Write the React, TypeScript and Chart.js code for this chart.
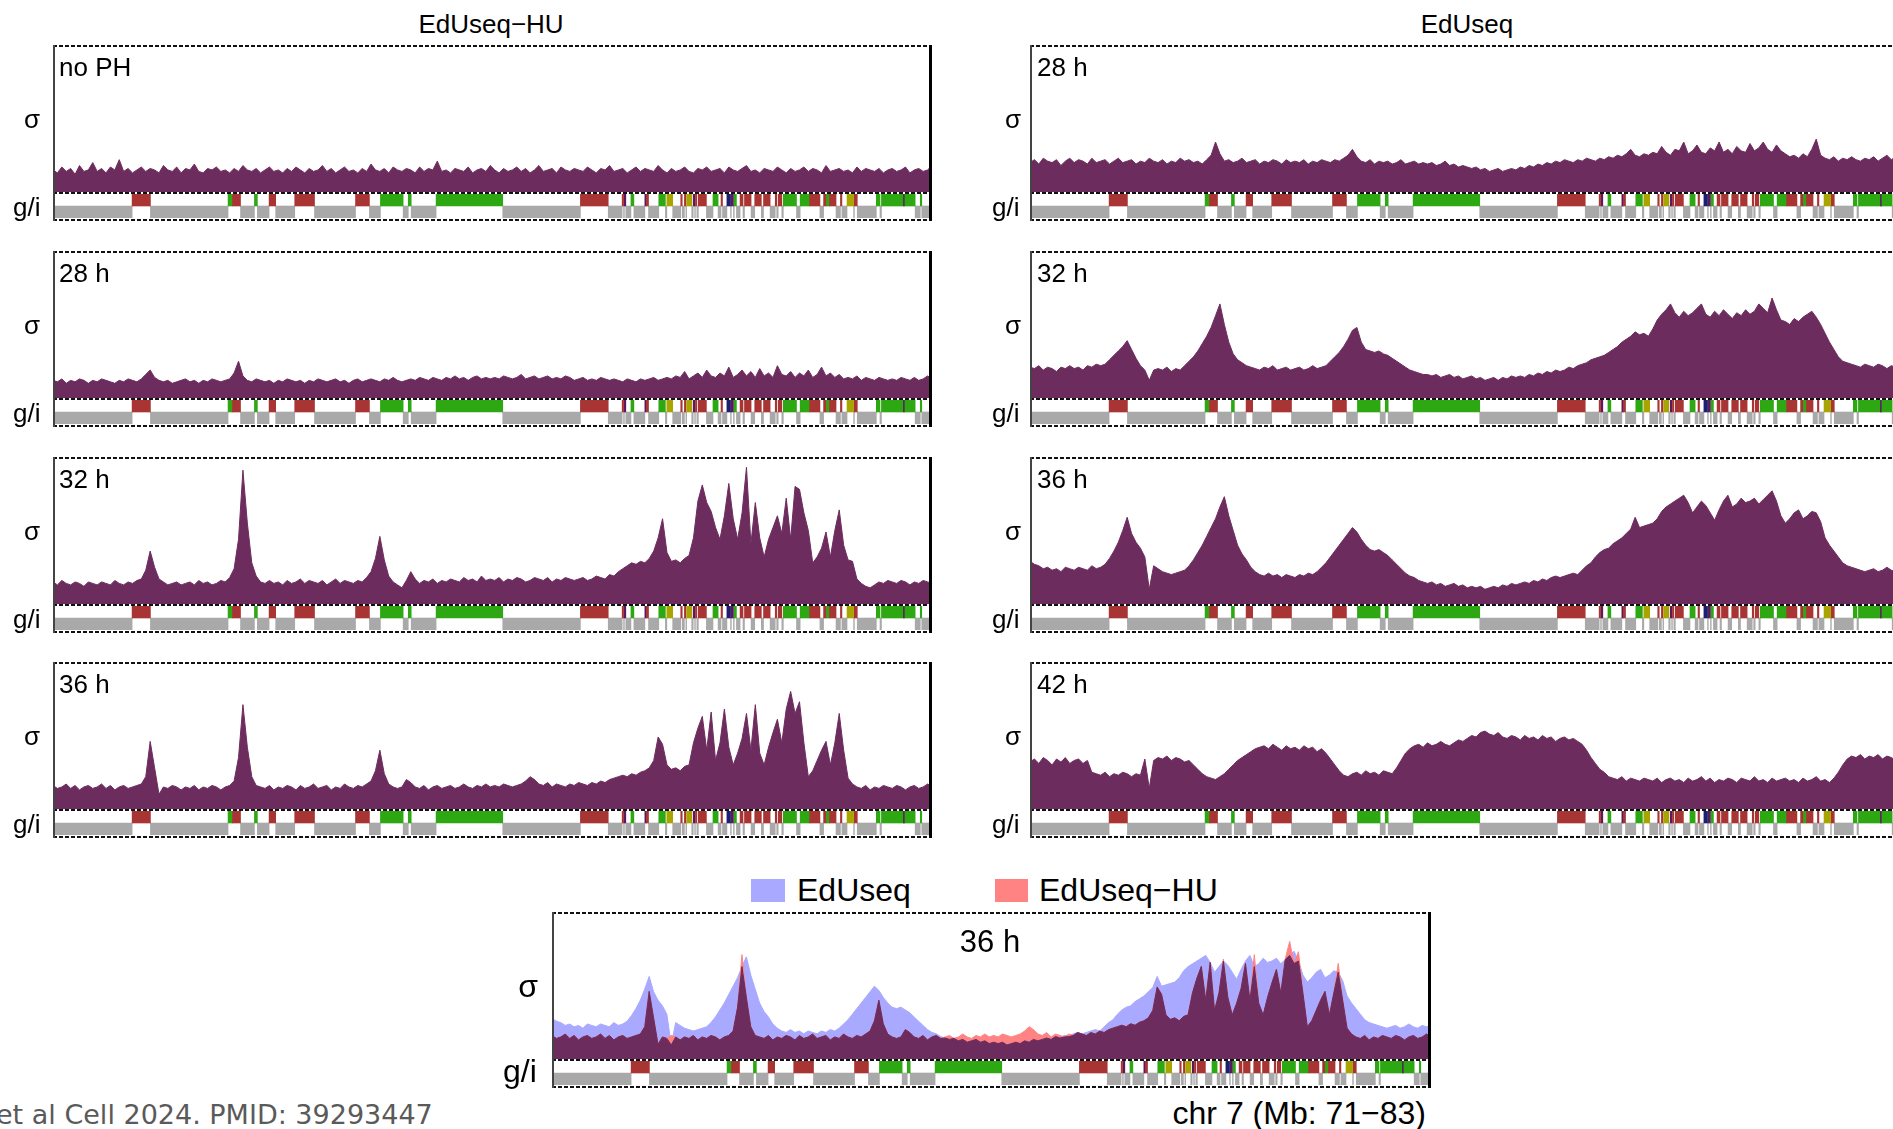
import React, { useEffect, useRef } from "react";
import { Chart, registerables } from "chart.js";
Chart.register(...registerables);

// ---------------- data ----------------
const MB_START = 71;
const MB_END = 83;
const N_BINS = 200;
const POS: number[] = Array.from({ length: N_BINS }, (_, i) => MB_START + (i * (MB_END - MB_START)) / (N_BINS - 1));

// EdUseq-HU, no partial hepatectomy
const HU_NOPH = [
  15,13,17,14,16,12,18,14,15,20, 14,16,13,17,15,22,14,16,13,15,
  17,14,16,15,13,18,15,14,17,13, 16,15,19,14,13,16,15,17,14,15,
  13,16,14,18,15,14,16,13,15,17, 14,15,13,16,14,17,15,13,16,14,
  15,18,14,16,13,15,17,14,15,13, 16,14,19,15,14,16,13,17,15,14,
  16,15,13,17,14,16,15,21,14,15, 13,16,15,14,17,13,15,16,14,18,
  15,13,16,14,15,17,14,16,13,15, 18,14,15,16,13,17,15,14,16,15,
  14,17,15,13,16,15,18,14,15,16, 13,15,17,14,16,15,14,18,15,13,
  16,14,15,17,14,13,16,15,17,14, 15,16,13,17,15,14,16,18,14,15,
  13,16,15,14,17,15,13,16,14,15, 17,14,16,15,13,18,14,15,16,14,
  15,13,17,14,16,15,14,16,13,15, 16,14,15,17,13,15,16,14,15,18,
];
// EdUseq-HU 28 h
const HU_28 = [
  12,11,13,10,12,11,13,12,10,12, 11,13,12,11,10,12,11,13,12,11,
  13,16,19,14,12,11,12,10,11,12, 13,11,12,10,12,11,13,12,11,12,
  13,17,25,15,12,11,13,12,11,12, 10,12,11,13,12,11,12,10,12,11,
  13,12,11,12,13,11,12,10,12,13, 11,12,13,12,11,13,12,14,12,11,
  12,13,12,14,13,12,14,13,12,14, 13,15,13,14,12,14,15,13,14,13,
  14,13,15,14,13,14,16,13,14,15, 13,14,15,13,14,13,15,14,12,13,
  14,12,13,12,14,13,12,13,12,11, 13,12,11,13,12,13,14,12,13,14,
  13,15,14,18,13,15,17,14,19,15, 14,17,15,21,14,16,19,15,18,14,
  20,15,17,14,22,16,15,18,14,17, 15,19,14,16,21,15,17,14,16,13,
  14,13,15,12,14,13,12,14,13,12, 13,12,14,13,12,14,12,13,15,13,
];
// EdUseq-HU 32 h
const HU_32 = [
  15,13,16,14,13,15,14,12,15,14, 13,15,14,13,16,14,13,15,14,16,
  17,23,36,25,17,15,13,14,15,13, 14,15,13,16,14,15,13,14,16,15,
  18,24,44,91,55,28,19,15,14,16, 14,15,13,16,14,15,17,14,16,15,
  14,16,13,15,17,14,16,15,14,16, 15,18,22,31,46,30,19,15,13,11,
  16,22,17,14,16,15,17,14,16,15, 17,16,15,18,16,17,15,19,16,17,
  16,18,15,17,16,18,17,15,16,18, 17,16,18,15,17,16,18,17,16,17,
  18,16,17,19,18,17,20,19,22,24, 26,28,27,29,28,31,36,45,58,35,
  29,30,28,31,33,45,70,81,69,63, 52,44,60,82,58,44,62,93,41,69,
  45,32,44,52,60,48,72,44,80,78, 62,50,28,32,38,49,32,50,64,40,
  30,29,17,14,12,11,13,15,14,16, 15,14,16,15,13,15,14,16,15,14,
];
// EdUseq-HU 36 h
const HU_36 = [
  16,14,15,17,14,16,13,15,16,14, 15,17,14,16,13,15,16,14,15,16,
  17,22,46,28,10,15,14,16,15,13, 15,14,16,13,15,14,16,15,13,15,
  16,19,35,71,42,22,16,15,14,16, 13,15,14,16,15,13,16,14,15,17,
  14,15,16,13,15,14,17,15,14,16, 15,17,19,26,40,24,17,15,14,15,
  20,18,15,14,16,13,15,16,14,15, 16,14,15,17,15,14,16,15,17,15,
  16,15,17,16,15,16,17,19,22,20, 17,16,18,15,17,16,15,17,16,18,
  17,16,18,17,19,18,20,21,22,23, 22,24,23,25,26,28,33,49,44,30,
  27,28,26,29,30,45,55,63,40,66, 33,45,68,42,30,38,48,65,40,71,
  38,30,42,52,61,45,68,80,65,73, 45,22,26,33,40,46,30,45,65,40,
  21,17,15,14,16,13,15,14,16,15, 14,16,15,13,15,16,14,15,17,15,
];
// EdUseq 28 h
const EDU_28 = [
  20,22,19,23,21,20,22,18,21,23, 20,22,21,19,23,20,21,22,19,21,
  23,20,21,22,19,21,20,23,21,20, 22,19,21,20,23,21,22,20,21,19,
  22,25,34,26,21,22,20,21,23,20, 21,22,19,21,20,22,21,19,22,20,
  21,20,22,19,21,20,22,21,20,22, 21,23,25,29,24,21,20,22,19,21,
  20,21,19,20,22,19,20,21,19,20, 19,20,18,19,21,18,19,17,18,17,
  16,17,15,16,14,15,16,14,15,16, 15,17,16,18,17,19,18,20,19,21,
  20,22,21,20,22,21,23,22,21,23, 22,24,23,25,24,26,29,25,24,26,
  25,27,26,31,27,25,29,28,34,26, 28,32,27,26,30,28,34,27,29,26,
  31,28,27,33,28,30,34,29,27,32, 28,26,24,25,23,26,24,29,36,25,
  23,22,24,21,23,22,24,22,21,23, 22,24,21,23,25,22,24,23,22,24,
];
// EdUseq 32 h
const EDU_32 = [
  21,20,22,19,21,20,18,21,20,22, 20,21,19,22,21,23,22,23,26,29,
  32,35,39,33,27,22,19,12,19,20, 19,21,18,20,19,22,25,28,32,37,
  42,48,56,64,50,38,30,26,24,22, 21,20,19,21,20,22,19,20,21,19,
  20,21,19,20,22,20,21,22,25,28, 31,35,40,46,48,38,33,32,31,32,
  30,29,27,25,23,21,19,18,17,16, 16,15,16,14,15,16,14,15,13,14,
  15,13,14,12,13,14,12,14,13,15, 14,15,14,16,15,17,16,18,17,19,
  18,19,21,20,22,23,24,26,27,28, 29,31,33,35,38,40,42,45,43,44,
  42,47,53,57,60,64,58,55,59,56, 58,61,64,57,55,59,56,60,57,54,
  58,56,60,57,59,64,61,58,68,60, 53,52,50,54,52,55,57,59,55,50,
  44,38,33,28,25,24,23,22,21,23, 22,21,23,22,20,22,21,23,22,21,
];
// EdUseq 36 h
const EDU_36 = [
  29,27,26,24,25,23,24,22,25,24, 23,25,24,23,26,24,25,27,31,36,
  42,50,59,48,42,38,32,10,26,24, 22,21,20,21,22,23,26,30,35,40,
  46,52,58,66,73,60,50,40,34,30, 25,22,20,19,21,19,20,18,20,19,
  18,20,19,21,20,22,25,28,32,36, 40,44,48,52,49,44,40,37,36,37,
  35,33,30,27,24,21,19,18,16,15, 14,15,13,14,12,13,14,12,13,11,
  12,11,12,10,11,12,11,13,12,14, 13,14,15,14,16,15,17,16,18,19,
  18,19,20,21,20,23,26,28,32,35, 37,38,41,43,45,48,51,59,52,53,
  54,55,58,63,66,68,70,72,74,69, 62,66,70,67,62,57,64,70,74,66,
  68,72,69,70,72,68,71,74,77,70, 60,55,58,62,64,58,60,63,62,56,
  45,40,36,32,28,26,25,24,23,22, 23,24,22,23,25,23,22,24,23,24,
];
// EdUseq 42 h
const EDU_42 = [
  32,34,31,35,33,30,34,32,35,31, 33,34,31,33,25,24,23,25,22,24,
  23,25,24,22,24,23,34,14,33,35, 34,36,33,35,34,32,33,30,27,24,
  22,21,20,22,24,27,30,33,35,37, 39,41,42,43,41,44,42,40,43,41,
  42,40,43,41,42,39,41,38,34,30, 26,23,22,24,25,23,26,24,25,23,
  26,25,24,28,33,38,41,43,44,42, 45,43,44,46,44,43,45,47,46,48,
  50,49,52,53,51,50,52,49,48,50, 49,47,50,48,49,47,50,48,49,46,
  48,49,47,48,46,44,40,35,31,27, 25,22,21,20,22,19,21,20,19,21,
  20,19,21,18,20,21,19,20,18,21, 19,20,22,19,21,18,20,19,21,20,
  18,21,20,19,22,19,20,18,21,19, 20,21,19,20,18,21,19,20,22,19,
  20,18,21,25,30,34,36,35,37,34, 36,35,37,34,36,35,33,36,34,35,
];

// genes on chr7 71-83 Mb: [start, end, class]
type Gene = [number, number, string];
const GENES: Gene[] = [
  [72.08, 72.33, "R"], [73.39, 73.45, "G"], [73.45, 73.56, "R"], [73.75, 73.79, "G"],
  [73.95, 74.04, "R"], [74.30, 74.57, "R"], [75.13, 75.32, "R"], [75.47, 75.78, "G"],
  [75.85, 75.89, "G"], [76.23, 77.14, "G"], [78.20, 78.58, "R"],
  [78.77, 78.79, "R"], [78.80, 78.82, "P"], [78.89, 78.93, "G"], [79.08, 79.10, "P"],
  [79.10, 79.13, "R"], [79.27, 79.36, "G"], [79.38, 79.46, "Y"], [79.57, 79.59, "R"],
  [79.62, 79.64, "R"], [79.65, 79.72, "Y"], [79.74, 79.76, "P"], [79.77, 79.79, "R"],
  [79.81, 79.92, "R"], [80.01, 80.08, "G"], [80.12, 80.14, "R"], [80.20, 80.25, "N"],
  [80.26, 80.29, "P"], [80.30, 80.33, "G"], [80.38, 80.42, "R"], [80.44, 80.53, "R"],
  [80.58, 80.67, "R"], [80.70, 80.79, "R"], [80.86, 80.88, "R"], [80.90, 80.95, "R"],
  [80.97, 81.15, "G"], [81.20, 81.33, "G"], [81.33, 81.47, "R"], [81.52, 81.56, "R"],
  [81.56, 81.60, "G"], [81.60, 81.69, "R"], [81.75, 81.77, "R"], [81.84, 81.93, "Y"],
  [81.94, 81.98, "R"], [82.24, 82.29, "G"], [82.31, 82.61, "G"], [82.61, 82.63, "P"],
  [82.63, 82.77, "G"], [82.84, 82.86, "G"],
];
// intergenic = complement of the genes
const INTERGENIC: [number, number][] = (() => {
  const s = [...GENES].sort((a, b) => a[0] - b[0]);
  const out: [number, number][] = [];
  let cur = MB_START;
  for (const g of s) {
    if (g[0] > cur) out.push([cur, g[0]]);
    cur = Math.max(cur, g[1]);
  }
  if (cur < MB_END) out.push([cur, MB_END]);
  return out;
})();

// ---------------- styles ----------------
const PURPLE = "#6D2C5E";
const BLUE = "#A9A9FF";
const PINK = "#FF8383";
const GRAY = "#A9A9A9";
const GENE_COLORS: Record<string, string> = { R: "#A93434", G: "#2EA812", Y: "#A8A400", P: "#5A1A5E", N: "#1E1E6E" };
const SANS = '"Liberation Sans", Arial, sans-serif';

const PANEL_W = 879;
const PANEL_H = 177;
const SIG_H = 147;
const GI_OFF = 149;
const GI_H = 24;

const LEFT_X = 53;
const RIGHT_X = 1030;
const ROW_T = [45, 251, 457, 662];
const BOTTOM_X = 552;
const BOTTOM_T = 912;

const borderPlugin = {
  id: "panelBorder",
  afterDraw(chart: any) {
    const ctx = chart.ctx as CanvasRenderingContext2D;
    const w = chart.width;
    ctx.save();
    ctx.strokeStyle = "#111";
    ctx.lineWidth = 2;
    ctx.setLineDash([4, 2]);
    for (const yy of [1, SIG_H + 1, PANEL_H - 2]) {
      ctx.beginPath();
      ctx.moveTo(0, yy);
      ctx.lineTo(w, yy);
      ctx.stroke();
    }
    ctx.setLineDash([]);
    ctx.strokeStyle = "#444";
    ctx.lineWidth = 2;
    ctx.beginPath();
    ctx.moveTo(1, 0);
    ctx.lineTo(1, PANEL_H - 1);
    ctx.stroke();
    ctx.strokeStyle = "#000";
    ctx.lineWidth = 3;
    ctx.beginPath();
    ctx.moveTo(w - 1.5, 0);
    ctx.lineTo(w - 1.5, PANEL_H - 1);
    ctx.stroke();
    ctx.restore();
  },
};

type Series = { values: number[]; color: string; axis?: string };

function areaDataset(s: Series) {
  return {
    data: POS.map((x, i) => ({ x, y: s.values[i] })),
    yAxisID: s.axis || "y",
    fill: "origin",
    backgroundColor: s.color,
    borderColor: s.color,
    borderWidth: 1,
    pointRadius: 0,
    tension: 0,
  };
}

function signalConfig(series: Series[], y2Max: number): any {
  return {
    type: "line",
    data: { datasets: series.map((s) => areaDataset(s)) },
    options: {
      animation: false,
      responsive: false,
      events: [],
      layout: { padding: { top: 0, left: 0, right: 0, bottom: PANEL_H - SIG_H } },
      scales: {
        x: { type: "linear", min: MB_START, max: MB_END, display: false },
        y: { type: "linear", min: 0, max: 100, display: false },
        y2: { type: "linear", min: 0, max: y2Max, display: false },
      },
      plugins: { legend: { display: false }, tooltip: { enabled: false } },
    },
    plugins: [borderPlugin],
  };
}

function giConfig(): any {
  return {
    type: "bar",
    data: {
      labels: ["g", "i"],
      datasets: [
        {
          data: GENES.map((g) => ({ x: [g[0], g[1]], y: "g" })),
          backgroundColor: GENES.map((g) => GENE_COLORS[g[2]]),
          borderWidth: 0,
          grouped: false,
          barPercentage: 1,
          categoryPercentage: 1,
        },
        {
          data: INTERGENIC.map((s) => ({ x: [s[0], s[1]], y: "i" })),
          backgroundColor: GRAY,
          borderWidth: 0,
          grouped: false,
          barPercentage: 1,
          categoryPercentage: 1,
        },
      ],
    },
    options: {
      indexAxis: "y",
      animation: false,
      responsive: false,
      events: [],
      layout: { padding: 0 },
      scales: {
        x: { type: "linear", min: MB_START, max: MB_END, display: false },
        y: { type: "category", display: false },
      },
      plugins: { legend: { display: false }, tooltip: { enabled: false } },
    },
  };
}

function Txt(props: {
  x: number; baseline: number; size: number; children: React.ReactNode;
  align?: "left" | "center" | "right"; color?: string; family?: string;
}) {
  const { x, baseline, size, children, align = "left", color = "#000", family = SANS } = props;
  const style: React.CSSProperties = {
    position: "absolute",
    top: baseline - 0.8465 * size,
    fontSize: size,
    lineHeight: size + "px",
    fontFamily: family,
    color,
    whiteSpace: "nowrap",
  };
  if (align === "left") style.left = x;
  else if (align === "right") style.right = 1893 - x;
  else {
    style.left = x;
    style.transform = "translateX(-50%)";
  }
  return <div style={style}>{children}</div>;
}

function Panel(props: { x: number; y: number; series: Series[]; y2Max?: number }) {
  const sigRef = useRef<HTMLCanvasElement>(null);
  const giRef = useRef<HTMLCanvasElement>(null);
  useEffect(() => {
    const c2 = new Chart(giRef.current!, giConfig());
    const c1 = new Chart(sigRef.current!, signalConfig(props.series, props.y2Max || 100));
    return () => {
      c1.destroy();
      c2.destroy();
    };
  }, []);
  return (
    <>
      <canvas
        ref={giRef}
        width={PANEL_W}
        height={GI_H}
        style={{ position: "absolute", left: props.x, top: props.y + GI_OFF, width: PANEL_W, height: GI_H }}
      />
      <canvas
        ref={sigRef}
        width={PANEL_W}
        height={PANEL_H}
        style={{ position: "absolute", left: props.x, top: props.y, width: PANEL_W, height: PANEL_H }}
      />
    </>
  );
}

const LEFT_PANELS = [
  { label: "no PH", values: HU_NOPH },
  { label: "28 h", values: HU_28 },
  { label: "32 h", values: HU_32 },
  { label: "36 h", values: HU_36 },
];
const RIGHT_PANELS = [
  { label: "28 h", values: EDU_28 },
  { label: "32 h", values: EDU_32 },
  { label: "36 h", values: EDU_36 },
  { label: "42 h", values: EDU_42 },
];

// overlay panel: EdUseq shown on its own (slightly larger) scale
const EDU_OVERLAY_MAX = 105;
const HU_OVERLAY_MAX = 100;
const OVERLAP_36 = EDU_36.map((v, i) => Math.min(v * HU_OVERLAY_MAX / EDU_OVERLAY_MAX, HU_36[i]));

export default function App() {
  return (
    <div
      style={{
        position: "absolute",
        left: 0,
        top: 0,
        width: 1893,
        height: 1129,
        overflow: "hidden",
        background: "#fff",
      }}
    >
      <Txt x={491} baseline={33} size={26} align="center">EdUseq{"\u2212"}HU</Txt>
      <Txt x={1467} baseline={33} size={26} align="center">EdUseq</Txt>

      {LEFT_PANELS.map((p, k) => (
        <React.Fragment key={"L" + k}>
          <Panel x={LEFT_X} y={ROW_T[k]} series={[{ values: p.values, color: PURPLE }]} />
          <Txt x={LEFT_X + 6} baseline={ROW_T[k] + 31.5} size={26}>{p.label}</Txt>
          <Txt x={32} baseline={ROW_T[k] + 83} size={26} align="center">σ</Txt>
          <Txt x={13} baseline={ROW_T[k] + 171} size={26}>g/i</Txt>
        </React.Fragment>
      ))}
      {RIGHT_PANELS.map((p, k) => (
        <React.Fragment key={"R" + k}>
          <Panel x={RIGHT_X} y={ROW_T[k]} series={[{ values: p.values, color: PURPLE }]} />
          <Txt x={RIGHT_X + 7} baseline={ROW_T[k] + 31.5} size={26}>{p.label}</Txt>
          <Txt x={1013} baseline={ROW_T[k] + 83} size={26} align="center">σ</Txt>
          <Txt x={992} baseline={ROW_T[k] + 171} size={26}>g/i</Txt>
        </React.Fragment>
      ))}

      {/* legend */}
      <div style={{ position: "absolute", left: 751, top: 879, width: 34, height: 23, background: BLUE }} />
      <Txt x={797} baseline={901} size={32}>EdUseq</Txt>
      <div style={{ position: "absolute", left: 995, top: 879, width: 33, height: 23, background: PINK }} />
      <Txt x={1039} baseline={901} size={32}>EdUseq{"\u2212"}HU</Txt>

      <Panel
        x={BOTTOM_X}
        y={BOTTOM_T}
        y2Max={EDU_OVERLAY_MAX}
        series={[
          { values: OVERLAP_36, color: PURPLE },
          { values: HU_36, color: PINK },
          { values: EDU_36, color: BLUE, axis: "y2" },
        ]}
      />
      <Txt x={990} baseline={952} size={31} align="center">36 h</Txt>
      <Txt x={528} baseline={997} size={32} align="center">σ</Txt>
      <Txt x={503} baseline={1082} size={32}>g/i</Txt>
      <Txt x={1426} baseline={1124} size={32} align="right">chr 7 (Mb: 71{"\u2212"}83)</Txt>

      <Txt x={-4} baseline={1124} size={27} color="#5a5a5a" family='"DejaVu Sans", Verdana, sans-serif'>
        et al Cell 2024. PMID: 39293447
      </Txt>
    </div>
  );
}
